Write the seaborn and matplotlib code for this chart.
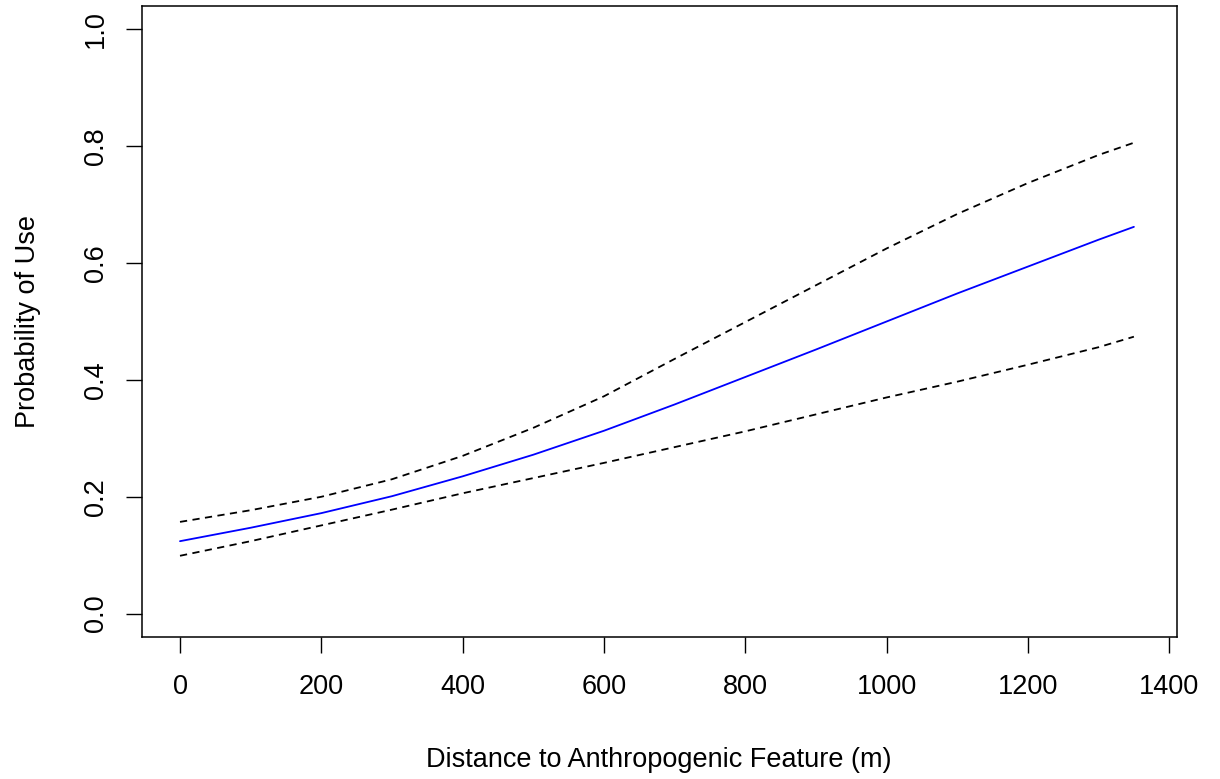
import matplotlib
matplotlib.use("Agg")
import matplotlib.pyplot as plt
import seaborn as sns
import pandas as pd

# Predicted probability of use with 95% confidence bounds
distance = [0, 100, 200, 300, 400, 500, 600, 700, 800, 900, 1000, 1100, 1200, 1300, 1350]
fit = [0.124, 0.147, 0.172, 0.201, 0.235, 0.272, 0.313, 0.358, 0.405, 0.452,
       0.500, 0.548, 0.594, 0.640, 0.662]
upper = [0.157, 0.177, 0.200, 0.230, 0.270, 0.318, 0.372, 0.436, 0.499, 0.562,
         0.625, 0.684, 0.737, 0.785, 0.806]
lower = [0.099, 0.124, 0.151, 0.178, 0.206, 0.232, 0.258, 0.285, 0.312, 0.341,
         0.370, 0.397, 0.426, 0.456, 0.474]

x_ticks = [0, 200, 400, 600, 800, 1000, 1200, 1400]
y_ticks = [0.0, 0.2, 0.4, 0.6, 0.8, 1.0]

df = pd.DataFrame({"distance": distance, "fit": fit, "upper": upper, "lower": lower})

sns.set_theme(style="ticks")
plt.rcParams["font.family"] = ["Liberation Sans", "DejaVu Sans"]

fig = plt.figure(figsize=(12.2, 7.79), dpi=100)
ax = fig.add_axes([141.5 / 1220, 1 - 637 / 779, (1177 - 141.5) / 1220, (637 - 6) / 779])

sns.lineplot(data=df, x="distance", y="fit", ax=ax, color="#0000ff", lw=1.3)
sns.lineplot(data=df, x="distance", y="upper", ax=ax, color="black", lw=1.3,
             linestyle=(0, (4, 3)))
sns.lineplot(data=df, x="distance", y="lower", ax=ax, color="black", lw=1.3,
             linestyle=(0, (4, 3)))

ax.set_xlim(-54.5, 1411)
ax.set_ylim(-0.04, 1.04)
ax.set_xticks(x_ticks)
ax.set_xticklabels([str(v) for v in x_ticks])
ax.set_yticks(y_ticks)
ax.set_yticklabels([f"{v:.1f}" for v in y_ticks], rotation=90, va="center")

for s in ax.spines.values():
    s.set_visible(True)
    s.set_color("black")
    s.set_linewidth(1.1)

ax.tick_params(axis="both", which="major", direction="out", length=11.5, width=1.0,
               color="black", labelsize=19.5, labelcolor="black",
               bottom=True, left=True, top=False, right=False)
ax.tick_params(axis="x", pad=15)
ax.tick_params(axis="y", pad=12)

ax.set_xlabel("Distance to Anthropogenic Feature (m)", fontsize=19.5, color="black",
              labelpad=34)
ax.set_ylabel("Probability of Use", fontsize=19.5, color="black", labelpad=30)

fig.savefig("out.png", dpi=100, facecolor="white")
